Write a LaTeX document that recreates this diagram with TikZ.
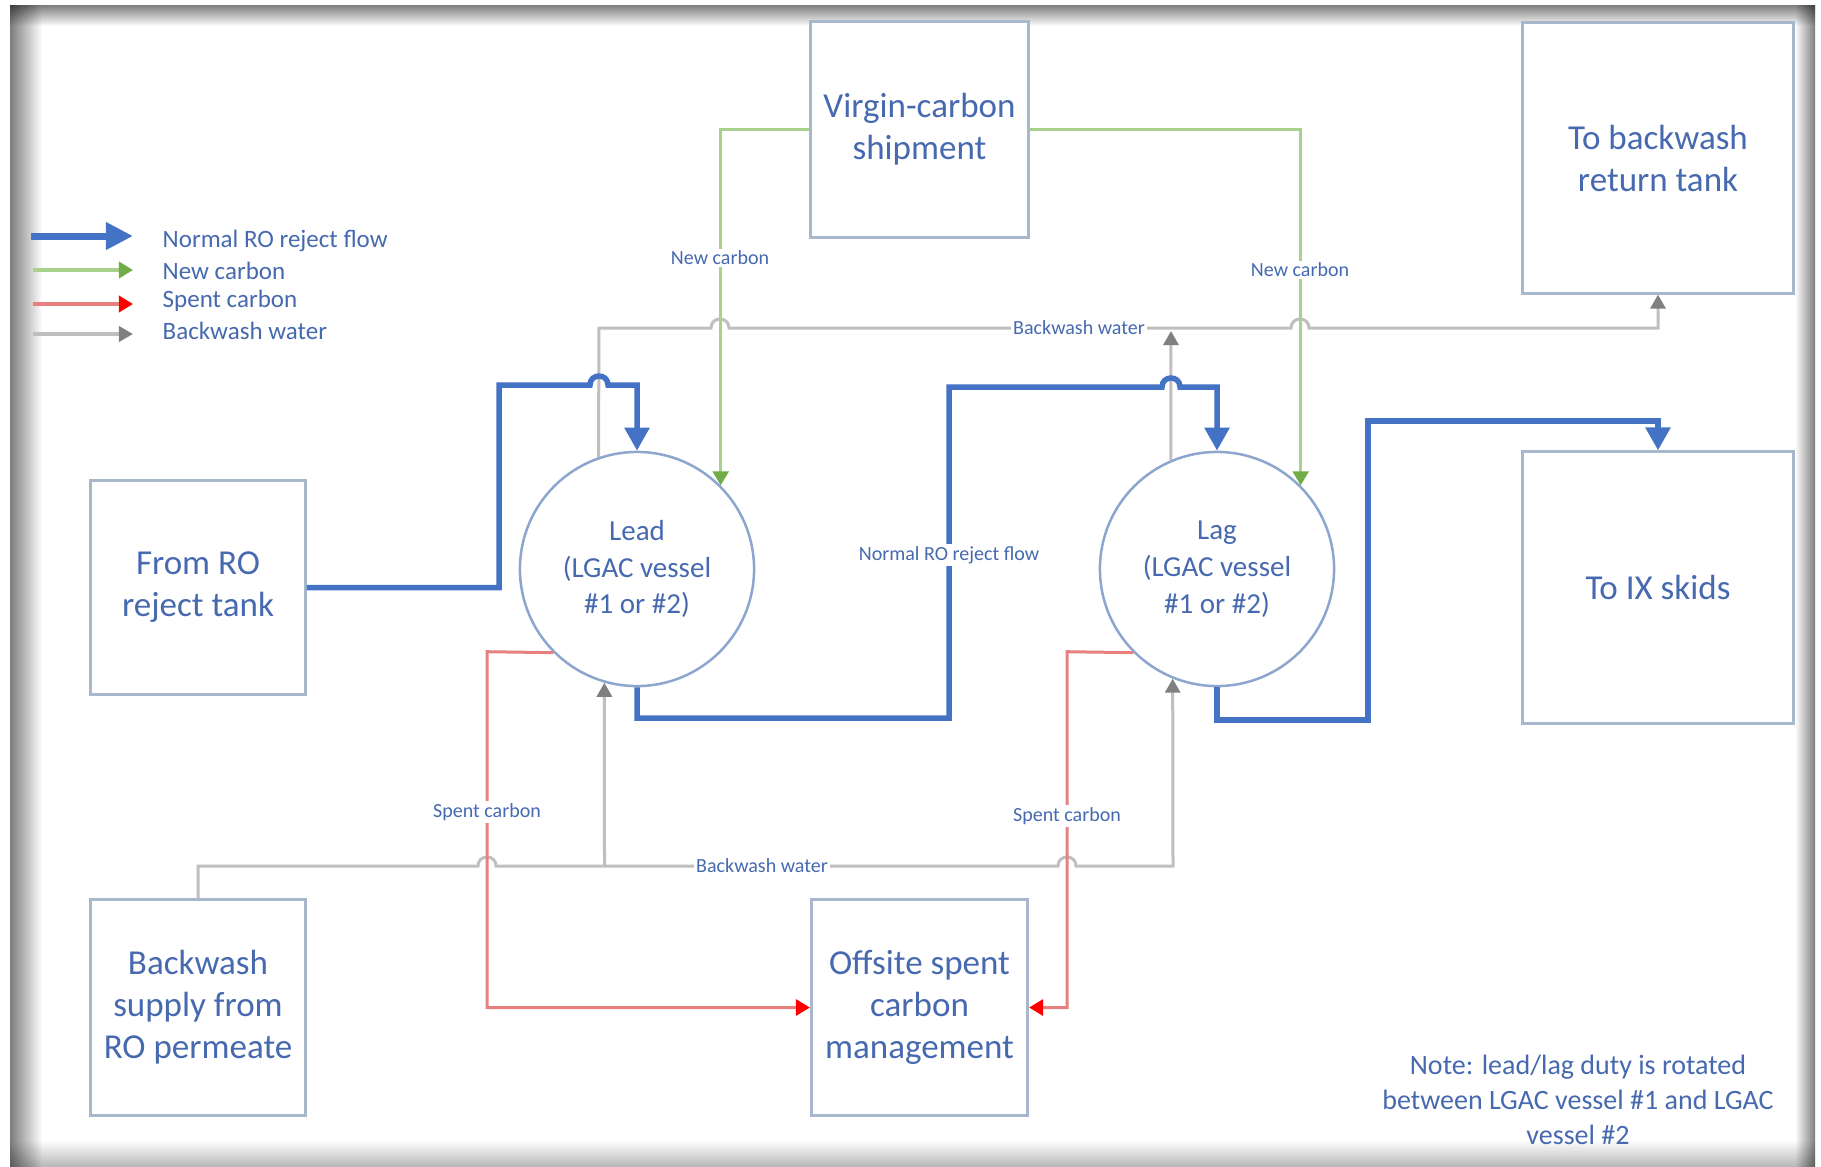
\documentclass[tikz,border=0pt]{standalone}
\usepackage{fontspec}
\setmainfont{Carlito}
\usetikzlibrary{arrows.meta}

\definecolor{txt}{RGB}{70,105,175}
\definecolor{boxline}{RGB}{168,184,204}
\definecolor{ringline}{RGB}{140,166,206}
\definecolor{flowblue}{RGB}{68,114,196}
\definecolor{carbonline}{RGB}{169,209,142}
\definecolor{carbontip}{RGB}{112,173,71}
\definecolor{spentline}{RGB}{232,128,128}
\definecolor{spenttip}{RGB}{255,0,0}
\definecolor{washline}{RGB}{191,191,191}
\definecolor{washtip}{RGB}{128,128,128}
\definecolor{edgegray}{RGB}{125,125,125}

\newcommand\boxfont{\fontsize{9.96}{11.95}\selectfont}
\newcommand\vesselfont{\fontsize{8.25}{10.44}\selectfont}
\newcommand\keyfont{\fontsize{7.11}{8.5}\selectfont}
\newcommand\tagfont{\fontsize{5.7}{6.8}\selectfont}
\newcommand\notefont{\fontsize{7.97}{9.96}\selectfont}

\tikzset{
  tank/.style={draw=boxline, line width=0.03cm, fill=white, inner sep=0pt,
    align=center, text=txt, font=\boxfont},
  vessel/.style={circle, draw=ringline, line width=0.025cm, fill=white,
    minimum size=2.34cm, inner sep=0pt, align=center, text=txt, font=\vesselfont},
  rejectflow/.style={draw=flowblue, line width=0.055cm,
    -{Triangle[length=0.23cm,width=0.24cm]}},
  newcarbon/.style={draw=carbonline, line width=0.025cm,
    -{Triangle[length=0.14cm,width=0.16cm,color=carbontip]}},
  spent/.style={draw=spentline, line width=0.03cm,
    -{Triangle[length=0.14cm,width=0.16cm,color=spenttip]}},
  washflow/.style={draw=washline, line width=0.03cm,
    -{Triangle[length=0.14cm,width=0.15cm,color=washtip]}},
  tag/.style={fill=white, inner sep=0.02cm, text=txt, font=\tagfont},
  keytext/.style={anchor=west, inner sep=0pt, text=txt, font=\keyfont},
}

\begin{document}
\begin{tikzpicture}[x=0.01cm, y=-0.01cm]
\useasboundingbox (0,0) rectangle (1821,1166);

% page frame with soft shadowed edges
\fill[white] (0,0) rectangle (1821,1166);
\begin{scope}[blend mode=multiply]
\shade[top color=edgegray, bottom color=white] (10,5) rectangle (1815,26);
\shade[left color=edgegray, right color=white] (10,5) rectangle (42,1166);
\shade[left color=white, right color=edgegray] (1795,5) rectangle (1815,1166);
\shade[top color=white, bottom color=gray!55] (10,1140) rectangle (1815,1166);
\end{scope}

% tanks and vessels
\node[tank, minimum width=2.14cm, minimum height=2.13cm] (fromro) at (198,587.5) {From RO\\reject tank};
\node[tank, minimum width=2.14cm, minimum height=2.15cm] (bwsup) at (198,1007.5) {Backwash\\supply from\\RO permeate};
\node[tank, minimum width=2.17cm, minimum height=2.15cm] (vcs) at (919.5,129.5) {Virgin-carbon\\shipment};
\node[tank, minimum width=2.16cm, minimum height=2.15cm] (offsite) at (919.5,1007.5) {Offsite spent\\carbon\\management};
\node[tank, minimum width=2.70cm, minimum height=2.70cm] (brt) at (1658,158) {To backwash\\return tank};
\node[tank, minimum width=2.70cm, minimum height=2.71cm] (ix) at (1658,587.5) {To IX skids};
\node[vessel] (lead) at (637,569) {Lead\\(LGAC vessel\\\#1 or \#2)};
\node[vessel] (lag) at (1217,569) {Lag\\(LGAC vessel\\\#1 or \#2)};

% backwash water (drawn first so other lines hop over it)
\draw[washflow] (lead.109) -- (599,328) -- (711,328)
  .. controls (711,316) and (729,316) .. (729,328) -- (1291,328)
  .. controls (1291,316) and (1309,316) .. (1309,328) -- (1658,328) -- (brt.south);
\coordinate (lagwash) at (1171,331);
\draw[washflow] (lag.113) -- (lagwash);
\draw[washflow] (bwsup.north) -- (198,866) -- (478,866)
  .. controls (478,854) and (496,854) .. (496,866) -- (1058,866)
  .. controls (1058,854) and (1076,854) .. (1076,866) -- (1173,866) -- (lag.248);
\coordinate (leadwash) at (604.5,866);
\draw[washflow] (leadwash) -- (lead.254);

% new carbon
\draw[newcarbon] (vcs.west) -| (lead.45);
\draw[newcarbon] (vcs.east) -| (lag.45);

% spent carbon
\draw[spent] (lead.225) -- (487,651.7) -- (487,1007.5) -- (offsite.west);
\draw[spent] (lag.225) -- (1067,651.7) -- (1067,1007.5) -- (offsite.east);

% normal RO reject flow
\draw[rejectflow] (fromro.east) -- (499,587.5) -- (499,385) -- (590,385)
  .. controls (590,373) and (608,373) .. (608,385) -- (637,385) -- (lead.north);
\draw[rejectflow] (lead.south) -- (637,718) -- (949,718) -- (949,387) -- (1162,387)
  .. controls (1162,375) and (1180,375) .. (1180,387) -- (1217,387) -- (lag.north);
\draw[rejectflow] (lag.south) -- (1217,720) -- (1368,720) -- (1368,421) -- (1658,421) -- (ix.north);

% line labels
\node[tag] (nc1) at (720,258) {New carbon};
\node[tag] (nc2) at (1300,270) {New carbon};
\node[tag] (bw1) at (1079,328) {Backwash water};
\node[tag] (bw2) at (762,866) {Backwash water};
\node[tag] (sc1) at (487,812) {Spent carbon};
\node[tag] (sc2) at (1067,816) {Spent carbon};
\node[tag] (rf1) at (949,555) {Normal RO reject flow};

% legend
\coordinate (k1a) at (31,236); \coordinate (k1b) at (133,236);
\coordinate (k2a) at (33,270); \coordinate (k2b) at (133,270);
\coordinate (k3a) at (33,304); \coordinate (k3b) at (133,304);
\coordinate (k4a) at (33,334); \coordinate (k4b) at (133,334);
\draw[draw=flowblue, line width=0.07cm, -{Triangle[length=0.27cm,width=0.26cm]}] (k1a) -- (k1b);
\draw[newcarbon, line width=0.04cm] (k2a) -- (k2b);
\draw[spent, line width=0.04cm] (k3a) -- (k3b);
\draw[washflow, line width=0.04cm] (k4a) -- (k4b);
\node[keytext] (t1) at (162,241) {Normal RO reject flow};
\node[keytext] (t2) at (162,271) {New carbon};
\node[keytext] (t3) at (162,301) {Spent carbon};
\node[keytext] (t4) at (162,331) {Backwash water};

% note
\node[align=center, text=txt, font=\notefont, inner sep=0pt] (note) at (1578,1100)
  {Note: lead/lag duty is rotated\\between LGAC vessel \#1 and LGAC\\vessel \#2};
\end{tikzpicture}
\end{document}
